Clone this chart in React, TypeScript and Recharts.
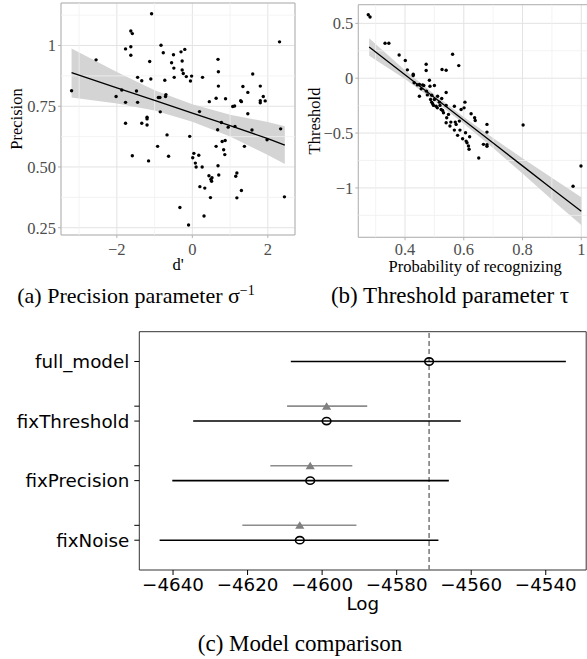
import React from "react";
import {
  ComposedChart,
  Scatter,
  Line,
  Area,
  XAxis,
  YAxis,
  CartesianGrid,
  ReferenceLine,
  ReferenceArea,
  ErrorBar,
} from "recharts";

// (a) d' against precision, one [d', precision] pair per participant
const precisionPoints: [number, number][] = [
  [-3.2, 0.814], [-2.55, 0.941], [-2.02, 0.79], [-1.87, 0.817], [-1.77, 0.986],
  [-1.77, 0.766], [-1.77, 0.68], [-1.63, 1.06], [-1.59, 1.049], [-1.63, 0.995],
  [-1.63, 0.96], [-1.59, 0.546], [-1.48, 0.813], [-1.45, 0.869], [-1.45, 0.766],
  [-1.34, 0.855], [-1.34, 0.68], [-1.2, 0.705], [-1.2, 0.698], [-1.2, 0.673],
  [-1.16, 0.525], [-1.13, 0.934], [-1.1, 0.862], [-1.08, 1.131], [-0.92, 0.585],
  [-0.9, 0.786], [-0.86, 0.786], [-0.83, 1.001], [-0.85, 0.727], [-0.77, 0.97],
  [-0.73, 0.857], [-0.71, 0.79], [-0.7, 0.798], [-0.67, 0.632], [-0.63, 0.544],
  [-0.55, 0.929], [-0.5, 0.962], [-0.49, 0.907], [-0.48, 0.869], [-0.33, 0.333],
  [-0.3, 0.974], [-0.27, 0.936], [-0.27, 0.899], [-0.24, 0.885], [-0.2, 0.984],
  [-0.16, 0.872], [-0.1, 0.261], [-0.07, 0.626], [-0.05, 0.854], [-0.02, 0.874],
  [0.01, 0.538], [0.04, 0.556], [0.08, 0.516], [0.1, 0.5], [0.17, 0.548],
  [0.19, 0.728], [0.2, 0.419], [0.26, 0.5], [0.27, 0.869], [0.31, 0.298],
  [0.33, 0.413], [0.44, 0.464], [0.48, 0.374], [0.45, 0.769], [0.49, 0.449],
  [0.51, 0.441], [0.52, 0.456], [0.63, 0.585], [0.63, 0.783], [0.67, 0.653],
  [0.68, 0.505], [0.68, 0.943], [0.69, 0.892], [0.69, 0.833], [0.7, 0.467],
  [0.77, 0.683], [0.79, 0.605], [0.83, 0.571], [0.86, 0.551], [0.87, 0.609],
  [0.88, 0.781], [0.95, 0.664], [1.07, 0.749], [1.12, 0.751], [1.13, 0.667],
  [1.15, 0.462], [1.18, 0.475], [1.18, 0.373], [1.28, 0.773], [1.3, 0.769],
  [1.3, 0.403], [1.34, 0.831], [1.38, 0.585], [1.47, 0.807], [1.47, 0.719],
  [1.58, 0.652], [1.6, 0.883], [1.8, 0.833], [1.8, 0.773], [1.8, 0.764],
  [1.88, 0.79], [1.93, 0.772], [1.98, 0.612], [2.31, 1.015], [2.34, 0.657],
  [2.44, 0.377],
];
// fitted line and its confidence band, read at a few d' values
const precisionFitX = [-3.2, -2, -1, 0, 1, 2, 2.45];
const precisionFit = [0.888, 0.826, 0.774, 0.722, 0.67, 0.617, 0.59];
const precisionLo = [0.786, 0.761, 0.732, 0.686, 0.625, 0.549, 0.512];
const precisionHi = [0.988, 0.891, 0.816, 0.758, 0.715, 0.685, 0.668];

// (b) probability of recognizing against threshold
const thresholdPoints: [number, number][] = [
  [0.275, 0.579], [0.281, 0.558], [0.332, 0.318], [0.345, 0.318], [0.38, 0.212],
  [0.401, 0.161], [0.408, 0.076], [0.428, 0.036], [0.428, 0.024], [0.431, -0.042],
  [0.442, -0.061], [0.449, -0.058], [0.449, -0.164], [0.455, -0.097], [0.46, -0.061],
  [0.464, -0.067], [0.472, 0.127], [0.472, 0.07], [0.473, -0.118], [0.476, -0.152],
  [0.483, -0.018], [0.485, -0.073], [0.487, -0.194], [0.491, -0.155], [0.491, -0.218],
  [0.494, -0.233], [0.497, -0.248], [0.5, -0.067], [0.5, -0.194], [0.506, -0.255],
  [0.51, -0.27], [0.511, -0.164], [0.517, -0.218], [0.519, -0.248], [0.523, -0.285],
  [0.525, -0.185], [0.526, 0.079], [0.528, -0.294], [0.531, -0.315], [0.54, 0.073],
  [0.54, -0.13], [0.54, -0.248], [0.542, -0.361], [0.54, -0.406], [0.548, -0.33],
  [0.553, -0.436], [0.556, -0.4], [0.562, 0.218], [0.568, -0.255], [0.568, -0.473],
  [0.571, -0.4], [0.574, -0.421], [0.579, -0.521], [0.583, 0.115], [0.585, -0.391],
  [0.587, -0.473], [0.591, -0.285], [0.596, -0.552], [0.601, -0.27], [0.604, -0.218],
  [0.606, -0.497], [0.608, -0.573], [0.611, -0.588], [0.616, -0.618], [0.618, -0.648],
  [0.62, -0.533], [0.625, -0.324], [0.637, -0.361], [0.639, -0.385], [0.651, -0.727],
  [0.667, -0.603], [0.679, -0.421], [0.679, -0.491], [0.679, -0.606], [0.679, -0.621],
  [0.802, -0.427], [0.972, -0.985], [0.999, -0.8],
];
const thresholdFitX = [0.278, 0.4, 0.5, 0.6, 0.7, 0.8, 0.9, 1.0];
const thresholdFit = [0.285, 0.032, -0.176, -0.384, -0.591, -0.799, -1.007, -1.212];
const thresholdLo = [0.205, -0.008, -0.206, -0.414, -0.636, -0.869, -1.107, -1.339];
const thresholdHi = [0.365, 0.072, -0.146, -0.354, -0.546, -0.729, -0.907, -1.085];

// (c) model comparison
const models = ["full_model", "fixThreshold", "fixPrecision", "fixNoise"];
const logMean = [-4571.3, -4598.8, -4603.2, -4606.0];
const logLow = [-4608.4, -4634.6, -4640.2, -4643.6];
const logHigh = [-4534.6, -4562.8, -4566.0, -4568.8];
const altMean = [null, -4598.8, -4603.2, -4606.0];
const altLow = [null, -4609.4, -4613.9, -4621.4];
const altHigh = [null, -4587.9, -4591.9, -4590.8];

const serif = "'Liberation Serif', 'Times New Roman', serif";
const sans = "'DejaVu Sans', sans-serif";
const tickGrey = "#4d4d4d";

const toPoints = (pts: [number, number][]) => pts.map(([x, y]) => ({ x, y }));
const toBand = (xs: number[], fit: number[], lo: number[], hi: number[]) =>
  xs.map((x, i) => ({ x, fit: fit[i], band: [lo[i], hi[i]] }));
const minus = (v: number) => String(v).replace("-", "\u2212");

const Dot = (p: any) => <circle cx={p.cx} cy={p.cy} r={1.7} fill="#000" />;

const AxisTitle = (props: any) => {
  const { viewBox, title, dx = 0, dy = 0, rotate, font, size } = props;
  const { x, y, width, height } = viewBox;
  if (rotate) {
    const cx = x + dx;
    const cy = y + height / 2;
    return (
      <text x={cx} y={cy} transform={`rotate(-90 ${cx} ${cy})`} textAnchor="middle"
        fontFamily={font} fontSize={size} fill="#000">
        {title}
      </text>
    );
  }
  return (
    <text x={x + width / 2} y={y + dy} textAnchor="middle" fontFamily={font} fontSize={size} fill="#000">
      {title}
    </text>
  );
};

const OpenCircle = (p: any) => (
  <ellipse cx={p.cx} cy={p.cy} rx={4.3} ry={3.6} fill="none" stroke="#000" strokeWidth={1.6} />
);
const Triangle = (p: any) => (
  <polygon points={`${p.cx - 4.6},${p.cy + 3.5} ${p.cx + 4.6},${p.cy + 3.5} ${p.cx},${p.cy - 4}`} fill="#808080" />
);

const GgPanel = ({ left, top, width, height, margin, yWidth, xDomain, yDomain, xTicks, yTicks,
  xMinor, yMinor, xFmt, yFmt, points, band, xTitle, yTitle, yTitleDx, xTitleDy, xTickMargin }: any) => (
  <div style={{ position: "absolute", left, top }}>
    <ComposedChart width={width} height={height} data={band} margin={margin}>
      <CartesianGrid stroke="#e3e3e3" strokeWidth={1} />
      {xMinor.map((v: number) => (
        <ReferenceLine key={"xm" + v} x={v} stroke="#f0f0f0" strokeWidth={0.8} />
      ))}
      {yMinor.map((v: number) => (
        <ReferenceLine key={"ym" + v} y={v} stroke="#f0f0f0" strokeWidth={0.8} />
      ))}
      <XAxis
        type="number"
        dataKey="x"
        domain={xDomain}
        allowDataOverflow
        ticks={xTicks}
        interval={0}
        tickFormatter={xFmt}
        axisLine={false}
        tickLine={{ stroke: "#b3b3b3" }}
        tickSize={3}
        tickMargin={xTickMargin}
        height={40}
        tick={{ fill: tickGrey, fontSize: 16.5, fontFamily: serif }}
        label={<AxisTitle title={xTitle} dy={xTitleDy} font={serif} size={16.5} />}
      />
      <YAxis
        type="number"
        dataKey="y"
        domain={yDomain}
        allowDataOverflow
        ticks={yTicks}
        interval={0}
        tickFormatter={yFmt}
        axisLine={false}
        tickLine={{ stroke: "#b3b3b3" }}
        tickSize={3}
        tickMargin={2}
        width={yWidth}
        tick={{ fill: tickGrey, fontSize: 16.5, fontFamily: serif }}
        label={<AxisTitle title={yTitle} rotate dx={yTitleDx} font={serif} size={16.5} />}
      />
      <Area dataKey="band" type="linear" fill="#d4d4d4" fillOpacity={1} stroke="none" isAnimationActive={false} />
      <Line dataKey="fit" type="linear" stroke="#000" strokeWidth={1.3} dot={false} isAnimationActive={false} />
      <Scatter data={points} shape={Dot} isAnimationActive={false} />
      <ReferenceArea x1={xDomain[0]} x2={xDomain[1]} y1={yDomain[0]} y2={yDomain[1]}
        fill="none" stroke="#b3b3b3" strokeWidth={1} />
    </ComposedChart>
  </div>
);

export default function App() {
  const circles = models.map((m, i) => ({ x: logMean[i], y: i, err: [logMean[i] - logLow[i], logHigh[i] - logMean[i]] }));
  const triangles = models
    .map((m, i) => ({ i, mean: altMean[i], lo: altLow[i], hi: altHigh[i] }))
    .filter((d) => d.mean !== null)
    .map((d) => ({ x: d.mean as number, y: d.i - 0.25, err: [(d.mean as number) - (d.lo as number), (d.hi as number) - (d.mean as number)] }));

  const caption: React.CSSProperties = {
    position: "absolute",
    fontFamily: serif,
    fontSize: 22,
    lineHeight: "24px",
    textAlign: "center",
    color: "#000",
    whiteSpace: "nowrap",
  };
  const sup: React.CSSProperties = { fontSize: 14, verticalAlign: "super", lineHeight: 0 };

  return (
    <div style={{ position: "absolute", left: 0, top: 0, width: 587, height: 659, overflow: "hidden", background: "#fff" }}>
      <GgPanel
        left={0} top={0} width={300} height={275}
        margin={{ top: 3, right: 5, left: 0, bottom: 0 }}
        yWidth={61}
        xDomain={[-3.48, 2.72]} yDomain={[0.22, 1.175]}
        xTicks={[-2, 0, 2]} yTicks={[0.25, 0.5, 0.75, 1]}
        xMinor={[-3, -1, 1]} yMinor={[0.375, 0.625, 0.875, 1.125]}
        xFmt={minus} yFmt={(v: number) => (v === 1 ? "1" : v.toFixed(2))}
        points={toPoints(precisionPoints)}
        band={toBand(precisionFitX, precisionFit, precisionLo, precisionHi)}
        xTitle="d'" yTitle="Precision" yTitleDx={22} xTitleDy={35} xTickMargin={5}
      />
      <GgPanel
        left={296} top={0} width={296} height={277.3}
        margin={{ top: 4.7, right: 0, left: 0, bottom: 0 }}
        yWidth={62.3}
        xDomain={[0.241, 1.0365]} yDomain={[-1.45, 0.67]}
        xTicks={[0.4, 0.6, 0.8, 1]} yTicks={[-1, -0.5, 0, 0.5]}
        xMinor={[0.3, 0.5, 0.7, 0.9]} yMinor={[-1.25, -0.75, -0.25, 0.25]}
        xFmt={(v: number) => String(v)} yFmt={minus}
        points={toPoints(thresholdPoints)}
        band={toBand(thresholdFitX, thresholdFit, thresholdLo, thresholdHi)}
        xTitle="Probability of recognizing" yTitle="Threshold" yTitleDx={24.5} xTitleDy={35} xTickMargin={3}
      />

      <div style={{ ...caption, left: -14, top: 284, width: 300 }}>
        (a) Precision parameter σ<sup style={sup}>−1</sup>
      </div>
      <div style={{ ...caption, fontSize: 23, left: 300, top: 284, width: 300 }}>
        (b) Threshold parameter τ
      </div>

      <div style={{ position: "absolute", left: 0, top: 320 }}>
        <ComposedChart width={587} height={300} margin={{ top: 11.7, right: 0.8, left: 0, bottom: 0 }}>
          <XAxis
            type="number"
            dataKey="x"
            domain={[-4649.05, -4529.15]}
            allowDataOverflow
            ticks={[-4640, -4620, -4600, -4580, -4560, -4540]}
            interval={0}
            tickFormatter={minus}
            axisLine={false}
            tickLine={{ stroke: "#000" }}
            tickSize={5}
            tickMargin={3}
            height={50}
            tick={{ fill: "#000", fontSize: 18.3, fontFamily: sans }}
            label={<AxisTitle title="Log" dy={39.5} font={sans} size={18.3} />}
          />
          <YAxis
            type="number"
            dataKey="y"
            domain={[-0.5, 3.5]}
            reversed
            allowDataOverflow
            ticks={[0, 0.75, 1, 1.75, 2, 2.75, 3]}
            interval={0}
            tickFormatter={(v: number) => (Number.isInteger(v) ? models[v] : "")}
            axisLine={false}
            tickLine={{ stroke: "#000" }}
            tickSize={5}
            tickMargin={5}
            width={139.3}
            tick={{ fill: "#000", fontSize: 18.3, fontFamily: sans }}
          />
          <ReferenceLine x={logMean[0]} stroke="#808080" strokeWidth={1.6} strokeDasharray="5 3" />
          <Scatter data={triangles} shape={Triangle} isAnimationActive={false}>
            <ErrorBar dataKey="err" direction="x" width={0} stroke="#8c8c8c" strokeWidth={1.6} />
          </Scatter>
          <Scatter data={circles} shape={OpenCircle} isAnimationActive={false}>
            <ErrorBar dataKey="err" direction="x" width={0} stroke="#000" strokeWidth={1.6} />
          </Scatter>
          <ReferenceArea x1={-4649.05} x2={-4529.15} y1={-0.5} y2={3.5} fill="none" stroke="#333" strokeWidth={1} />
        </ComposedChart>
      </div>

      <div style={{ ...caption, fontSize: 23, left: 150, top: 632, width: 300 }}>(c) Model comparison</div>
    </div>
  );
}
